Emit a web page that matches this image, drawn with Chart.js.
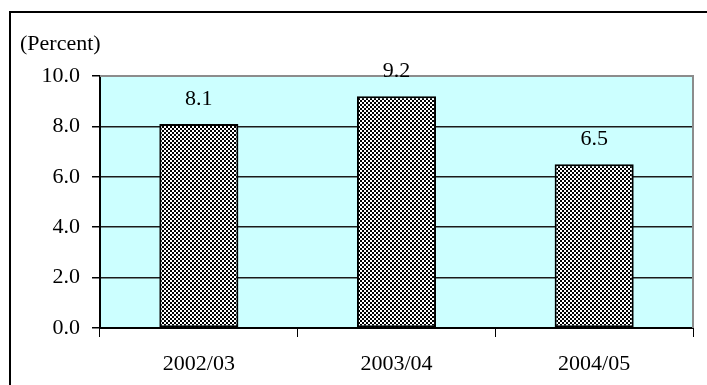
<!DOCTYPE html>
<html>
<head>
<meta charset="utf-8">
<script src="https://cdn.jsdelivr.net/npm/chart.js@4"></script>
<style>
  html, body { margin: 0; padding: 0; background: #ffffff; }
  #wrap { width: 707px; height: 385px; position: relative; }
</style>
</head>
<body>
<div id="wrap"><canvas id="c" width="707" height="385"></canvas></div>
<script>
// Fiscal years and growth rates
const years = ['2002/03', '2003/04', '2004/05'];
const rates = [8.1, 9.2, 6.5];
const unitLabel = '(Percent)';

const FONT = '"Liberation Serif", "Times New Roman", serif';
const FONT_SIZE = 22;

// Small checkerboard fill for the bars
function checkerPattern() {
  const p = document.createElement('canvas');
  p.width = 4; p.height = 4;
  const g = p.getContext('2d');
  g.fillStyle = '#ffffff';
  g.fillRect(0, 0, 4, 4);
  g.fillStyle = '#000000';
  g.fillRect(0, 0, 2, 2);
  g.fillRect(2, 2, 2, 2);
  return document.getElementById('c').getContext('2d').createPattern(p, 'repeat');
}

// Frame, plot background and unit caption
const framePlugin = {
  id: 'frame',
  beforeDraw(chart) {
    const { ctx, chartArea: a } = chart;
    ctx.save();
    ctx.fillStyle = '#ccffff';
    ctx.fillRect(a.left, a.top, a.right - a.left, a.bottom - a.top);
    ctx.strokeStyle = '#000000';
    ctx.lineWidth = 2;
    ctx.beginPath();
    ctx.moveTo(10, 400);
    ctx.lineTo(10, 12);
    ctx.lineTo(720, 12);
    ctx.stroke();
    ctx.fillStyle = '#000000';
    ctx.font = FONT_SIZE + 'px ' + FONT;
    ctx.textBaseline = 'middle';
    ctx.textAlign = 'left';
    ctx.fillText(unitLabel, 20, 44);
    ctx.restore();
  },
  beforeDatasetsDraw(chart) {
    const { ctx, chartArea: a } = chart;
    ctx.save();
    ctx.strokeStyle = '#8c8c8c';
    ctx.lineWidth = 2;
    ctx.beginPath();
    ctx.moveTo(a.left, a.top);
    ctx.lineTo(a.right, a.top);
    ctx.lineTo(a.right, a.bottom);
    ctx.stroke();
    ctx.restore();
  }
};

// Value labels above each bar
const valueLabels = {
  id: 'valueLabels',
  afterDatasetsDraw(chart) {
    const { ctx } = chart;
    const meta = chart.getDatasetMeta(0);
    ctx.save();
    ctx.fillStyle = '#000000';
    ctx.font = FONT_SIZE + 'px ' + FONT;
    ctx.textAlign = 'center';
    ctx.textBaseline = 'middle';
    meta.data.forEach((bar, i) => {
      ctx.fillText(rates[i].toFixed(1), bar.x, bar.y - 25);
    });
    ctx.restore();
  }
};

new Chart(document.getElementById('c'), {
  type: 'bar',
  data: {
    labels: years,
    datasets: [{
      data: rates,
      backgroundColor: checkerPattern(),
      borderColor: '#000000',
      borderWidth: 2,
      borderSkipped: false,
      barPercentage: 0.4,
      categoryPercentage: 1.0
    }]
  },
  options: {
    responsive: false,
    animation: false,
    layout: { padding: { left: 0, top: 76, right: 14, bottom: 0 } },
    plugins: { legend: { display: false }, tooltip: { enabled: false } },
    scales: {
      x: {
        offset: true,
        grid: {
          offset: true,
          drawOnChartArea: false,
          drawTicks: true,
          tickLength: 9,
          color: '#000000'
        },
        border: { display: true, color: '#000000', width: 2 },
        ticks: { color: '#000000', font: { family: FONT, size: FONT_SIZE }, padding: 14 },
        afterFit(scale) { scale.height = 57; }
      },
      y: {
        min: 0,
        max: 10,
        ticks: {
          stepSize: 2,
          color: '#000000',
          font: { family: FONT, size: FONT_SIZE },
          padding: 12,
          callback: v => Number(v).toFixed(1)
        },
        grid: {
          color: ctx => (ctx.tick && ctx.tick.value === 10) ? '#8c8c8c' : '#1a1a1a',
          tickColor: '#000000',
          lineWidth: 1.5,
          tickLength: 8
        },
        border: { display: true, color: '#000000', width: 2 },
        afterFit(scale) { scale.width = 100; }
      }
    }
  },
  plugins: [framePlugin, valueLabels]
});
</script>
</body>
</html>
